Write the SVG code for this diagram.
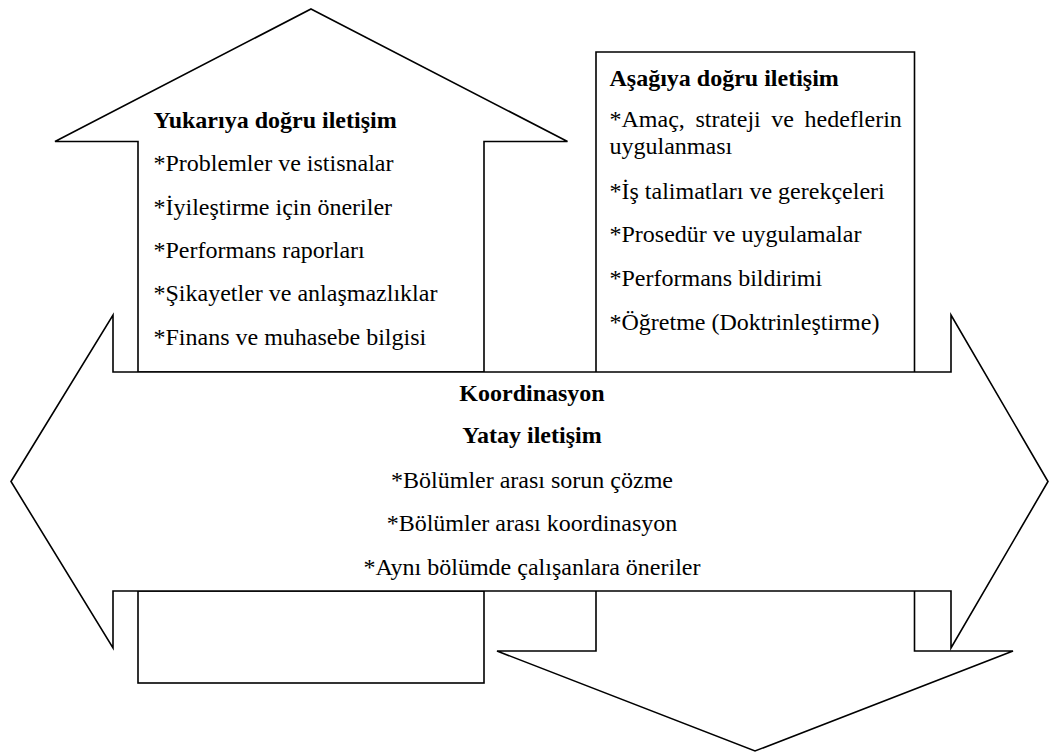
<svg xmlns="http://www.w3.org/2000/svg" width="1051" height="753" viewBox="0 0 1051 753">
<style>
.shape{fill:#fff;stroke:#000;stroke-width:1.6;stroke-linejoin:miter}
.t{font-family:"Liberation Serif","Times New Roman",serif;font-size:24px;fill:#000}
.b{font-weight:bold}
.c{text-anchor:middle}
</style>
<rect x="0" y="0" width="1051" height="753" fill="#fff"/>
<g id="upward">
<polygon class="shape" points="311,9 567.5,141.5 484,141.5 484,372 138,372 138,141.5 55,141.5"/>
<text class="t b" x="153.5" y="128">Yukarıya doğru iletişim</text>
<text class="t" x="153.5" y="170.5">*Problemler ve istisnalar</text>
<text class="t" x="153.5" y="214.5">*İyileştirme için öneriler</text>
<text class="t" x="153.5" y="258">*Performans raporları</text>
<text class="t" x="153.5" y="301">*Şikayetler ve anlaşmazlıklar</text>
<text class="t" x="153.5" y="344.5">*Finans ve muhasebe bilgisi</text>
</g>
<g id="downward">
<polygon class="shape" points="596,52 914.5,52 914.5,651 1013,651 755,751 497,651 596,651"/>
<text class="t b" x="609.5" y="85.5">Aşağıya doğru iletişim</text>
<text class="t" x="609.5" y="127" word-spacing="4.6">*Amaç, strateji ve hedeflerin</text>
<text class="t" x="609.5" y="154">uygulanması</text>
<text class="t" x="609.5" y="199">*İş talimatları ve gerekçeleri</text>
<text class="t" x="609.5" y="242">*Prosedür ve uygulamalar</text>
<text class="t" x="609.5" y="285.5">*Performans bildirimi</text>
<text class="t" x="609.5" y="329.5">*Öğretme (Doktrinleştirme)</text>
</g>
<g id="bottom-box">
<rect class="shape" x="138" y="591" width="346" height="92"/>
</g>
<g id="horizontal">
<polygon class="shape" points="11,481.5 113,315 113,372 951,372 951,315 1048,481.5 951,648 951,591 113,591 113,648"/>
<text class="t b c" x="532" y="401">Koordinasyon</text>
<text class="t b c" x="532" y="443">Yatay iletişim</text>
<text class="t c" x="532" y="488">*Bölümler arası sorun çözme</text>
<text class="t c" x="532" y="531">*Bölümler arası koordinasyon</text>
<text class="t c" x="532" y="574.5">*Aynı bölümde çalışanlara öneriler</text>
</g>
</svg>
